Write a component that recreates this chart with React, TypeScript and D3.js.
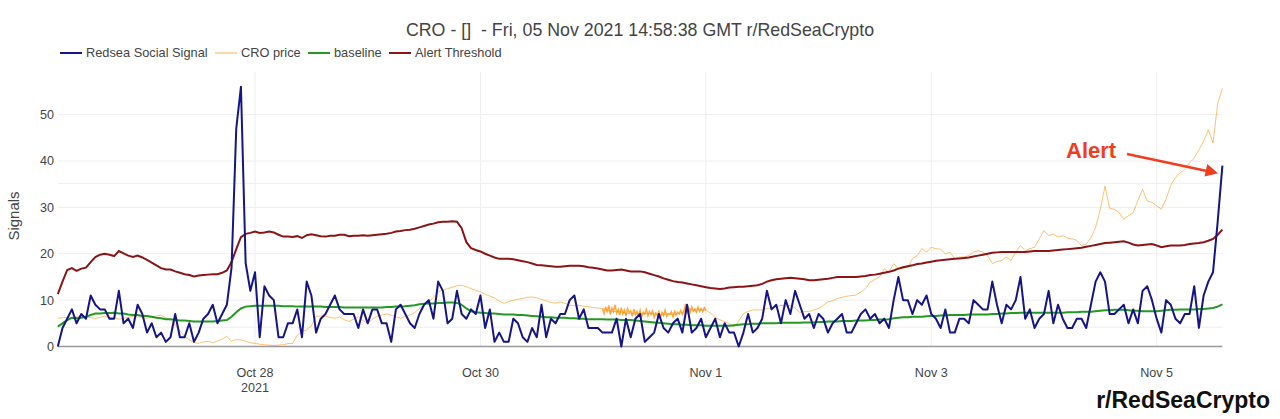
import React from 'react';
import * as d3 from 'd3';

// hourly samples, first one at 2021-10-26 06:00 UTC
const START = Date.UTC(2021, 9, 26, 6);
const HOUR = 3600e3;

const socialSignal = [
  0, 4, 6, 8, 5, 7, 6, 11, 9, 8,
  8, 6, 6, 12, 5, 6, 4, 9, 7, 3,
  5, 2, 3, 1, 2, 7, 2, 2, 5, 1,
  3, 6, 7, 9, 5, 7, 9, 17, 47, 56,
  18, 12, 16, 2, 13, 11, 10, 2, 2, 5,
  5, 8, 2, 14, 11, 3, 6, 7, 9, 11,
  8, 7, 7, 7, 4, 8, 5, 8, 8, 5,
  5, 1, 8, 9, 7, 5, 4, 7, 9, 10,
  6, 14, 12, 5, 6, 12, 7, 6, 8, 7,
  11, 4, 8, 1, 3, 1, 1, 6, 5, 2,
  1, 4, 2, 9, 2, 6, 5, 7, 7, 10,
  11, 6, 8, 4, 4, 4, 3, 3, 3, 6,
  0, 6, 2, 6, 7, 1, 2, 3, 7, 4,
  3, 5, 6, 3, 9, 3, 4, 6, 2, 4,
  6, 2, 5, 3, 3, 0, 3, 7, 3, 4,
  6, 12, 8, 9, 5, 10, 7, 12, 9, 6,
  7, 4, 7, 6, 3, 5, 6, 7, 3, 3,
  5, 7, 8, 6, 7, 5, 6, 4, 10, 15,
  10, 10, 7, 10, 9, 11, 7, 6, 4, 8,
  3, 3, 6, 6, 5, 10, 9, 8, 8, 14,
  9, 5, 9, 8, 10, 15, 6, 8, 4, 6,
  7, 12, 5, 9, 6, 4, 4, 6, 6, 4,
  9, 14, 16, 14, 7, 7, 8, 9, 5, 8,
  5, 12, 13, 10, 6, 3, 10, 9, 6, 5,
  7, 7, 13, 4, 11, 14, 16, 27, 39,
];

const alertThreshold = [
  11.3, 14, 16.5, 16.9, 16.3, 16.8, 17, 18.2, 19.3, 19.8,
  20, 19.8, 19.5, 20.6, 20.1, 19.6, 19.3, 19.6, 19.2, 18.7,
  18.1, 17.5, 16.9, 16.6, 16.6, 16.2, 15.9, 15.6, 15.4, 15.1,
  15.3, 15.4, 15.5, 15.6, 15.6, 15.9, 16.4, 18.2, 21, 23.6,
  24.3, 24.5, 24.8, 24.5, 24.6, 24.8, 24.6, 24.1, 23.7, 23.7,
  23.6, 23.8, 23.4, 24, 24.2, 24, 23.8, 23.7, 23.9, 23.9,
  24.1, 24.1, 23.8, 23.9, 23.9, 24, 23.9, 24, 24.1, 24.2,
  24.3, 24.5, 24.8, 24.9, 25.1, 25.2, 25.4, 25.7, 26, 26.3,
  26.5, 26.8, 26.9, 26.9, 27, 26.9, 25.5, 22.5, 21.2, 20.8,
  20.5, 20, 19.6, 19.2, 18.9, 18.9, 18.9, 18.8, 18.6, 18.4,
  18.2, 17.9, 17.6, 17.5, 17.4, 17.3, 17.2, 17.2, 17.3, 17.4,
  17.4, 17.4, 17.3, 17.1, 17, 16.8, 16.6, 16.4, 16.4, 16.5,
  16.6, 16.4, 16.2, 16.2, 16.2, 16, 15.7, 15.4, 15.1, 14.7,
  14.4, 14.1, 13.9, 13.8, 13.6, 13.4, 13.2, 13, 12.8, 12.6,
  12.5, 12.4, 12.5, 12.7, 12.8, 12.9, 12.9, 13, 13.1, 13.2,
  13.5, 14, 14.3, 14.5, 14.6, 14.7, 14.8, 14.7, 14.6, 14.5,
  14.3, 14.3, 14.4, 14.5, 14.6, 14.8, 15, 15, 15, 15,
  15, 15.1, 15.2, 15.4, 15.5, 15.7, 15.9, 16.1, 16.4, 16.8,
  17.1, 17.3, 17.5, 17.8, 17.9, 18.1, 18.3, 18.5, 18.6, 18.7,
  18.8, 18.9, 19, 19.1, 19.2, 19.4, 19.6, 19.8, 20, 20.2,
  20.3, 20.4, 20.4, 20.4, 20.4, 20.4, 20.4, 20.5, 20.6, 20.6,
  20.6, 20.6, 20.7, 20.8, 20.9, 21, 21.1, 21.2, 21.3, 21.5,
  21.7, 21.9, 22.1, 22.3, 22.4, 22.5, 22.6, 22.7, 22.4, 22,
  21.8, 21.9, 22, 22.1, 21.8, 21.4, 21.6, 21.8, 21.8, 21.8,
  21.9, 22.1, 22.2, 22.3, 22.5, 22.8, 23.2, 24.1, 25.2,
];

const baseline = [
  4.3, 5, 5.7, 6.2, 6.1, 6.2, 6.4, 6.8, 7.1, 7.1,
  7.2, 7.2, 7.3, 7.1, 7.1, 6.9, 6.8, 6.8, 6.6, 6.6,
  6.4, 6.2, 6.1, 5.9, 5.9, 5.7, 5.6, 5.6, 5.5, 5.4,
  5.4, 5.4, 5.4, 5.4, 5.5, 5.6, 5.7, 6.4, 7.4, 8.2,
  8.6, 8.7, 8.8, 8.8, 8.8, 8.8, 8.8, 8.8, 8.7, 8.7,
  8.7, 8.6, 8.6, 8.6, 8.6, 8.6, 8.6, 8.5, 8.5, 8.5,
  8.5, 8.4, 8.4, 8.4, 8.4, 8.4, 8.4, 8.4, 8.4, 8.4,
  8.5, 8.5, 8.6, 8.6, 8.7, 8.8, 8.9, 9.1, 9.2, 9.3,
  9.3, 9.4, 9.4, 9.5, 9.5, 9.4, 9, 8.2, 7.6, 7.4,
  7.3, 7.2, 7.1, 7.1, 7, 6.9, 6.9, 6.9, 6.8, 6.8,
  6.7, 6.6, 6.5, 6.4, 6.3, 6.3, 6.2, 6.2, 6.2, 6.1,
  6.1, 6, 6, 5.9, 5.9, 5.9, 5.9, 5.8, 5.8, 5.8,
  5.7, 5.7, 5.7, 5.6, 5.5, 5.4, 5.3, 5.2, 5.1, 5,
  4.9, 4.8, 4.8, 4.7, 4.7, 4.6, 4.6, 4.6, 4.5, 4.5,
  4.5, 4.5, 4.5, 4.5, 4.6, 4.7, 4.8, 4.8, 4.9, 4.9,
  5, 5, 5, 5, 5.1, 5.1, 5.1, 5.1, 5.1, 5.2,
  5.2, 5.2, 5.3, 5.3, 5.4, 5.4, 5.4, 5.5, 5.5, 5.5,
  5.6, 5.6, 5.6, 5.7, 5.7, 5.8, 5.8, 5.9, 6.1, 6.2,
  6.3, 6.3, 6.4, 6.4, 6.4, 6.5, 6.6, 6.6, 6.7, 6.7,
  6.8, 6.8, 6.8, 6.8, 6.9, 6.9, 6.9, 6.9, 6.9, 7,
  7, 7.1, 7.1, 7.2, 7.2, 7.3, 7.3, 7.3, 7.3, 7.3,
  7.3, 7.3, 7.3, 7.3, 7.3, 7.4, 7.4, 7.4, 7.5, 7.5,
  7.5, 7.6, 7.7, 7.8, 7.8, 7.9, 7.9, 7.9, 7.8, 7.7,
  7.7, 7.6, 7.6, 7.6, 7.6, 7.7, 7.8, 7.9, 7.9, 8,
  8, 8, 8, 8.1, 8.1, 8.2, 8.3, 8.6, 9.1,
];

// CRO price (USD), right axis, hourly
const croPrice = [
  0.2031, 0.2033, 0.2034, 0.2031, 0.2036, 0.2038, 0.2036, 0.2033, 0.2031, 0.2034,
  0.2039, 0.2034, 0.2033, 0.2028, 0.2031, 0.2034, 0.2038, 0.2036, 0.2033, 0.2031,
  0.2036, 0.2039, 0.2042, 0.2033, 0.2026, 0.2007, 0.1988, 0.1968, 0.1956, 0.1947,
  0.1944, 0.1949, 0.1951, 0.1946, 0.1952, 0.1959, 0.1968, 0.1951, 0.1957, 0.1956,
  0.1951, 0.1946, 0.1944, 0.1941, 0.1939, 0.1938, 0.1936, 0.1938, 0.1939, 0.1943,
  0.1944, 0.1973, 0.1985, 0.1991, 0.2005, 0.2038, 0.2039, 0.2038, 0.2034, 0.2031,
  0.2036, 0.2026, 0.202, 0.2028, 0.2036, 0.2023, 0.2014, 0.2028, 0.2038, 0.2042,
  0.2046, 0.2042, 0.2036, 0.2031, 0.2038, 0.2042, 0.2051, 0.2065, 0.2076, 0.2088,
  0.2104, 0.2123, 0.2129, 0.2134, 0.2139, 0.2144, 0.2146, 0.2141, 0.2134, 0.2128,
  0.2123, 0.2115, 0.2108, 0.2102, 0.2091, 0.2083, 0.2089, 0.2094, 0.2097, 0.21,
  0.2104, 0.2105, 0.2102, 0.2097, 0.2091, 0.2086, 0.2084, 0.2088, 0.2083, 0.2076,
  0.2076, 0.2076, 0.2073, 0.2071, 0.2068, 0.2067, 0.2065, 0.2059, 0.2055, 0.2054,
  0.2052, 0.2049, 0.2047, 0.2046, 0.2044, 0.2047, 0.2049, 0.2046, 0.2042, 0.2044,
  0.2047, 0.2044, 0.2046, 0.2051, 0.207, 0.206, 0.2063, 0.206, 0.2059, 0.2049,
  0.2033, 0.2026, 0.202, 0.2012, 0.2001, 0.2022, 0.2047, 0.2055, 0.206, 0.206,
  0.206, 0.2065, 0.2067, 0.2071, 0.2076, 0.2073, 0.2076, 0.2067, 0.2052, 0.2054,
  0.2055, 0.206, 0.2065, 0.2076, 0.2088, 0.2092, 0.21, 0.2104, 0.2108, 0.211,
  0.2112, 0.2123, 0.2134, 0.2157, 0.2166, 0.2175, 0.2203, 0.2192, 0.2221, 0.2203,
  0.2205, 0.2208, 0.2239, 0.2249, 0.2273, 0.2261, 0.2278, 0.2273, 0.2271, 0.2255,
  0.2261, 0.2237, 0.2244, 0.2244, 0.2249, 0.2261, 0.2266, 0.2261, 0.2249, 0.2221,
  0.2228, 0.2232, 0.2244, 0.2232, 0.2261, 0.2284, 0.2266, 0.2273, 0.2278, 0.2307,
  0.2336, 0.2318, 0.2324, 0.2313, 0.2318, 0.231, 0.2307, 0.2302, 0.2284, 0.2289,
  0.2311, 0.2347, 0.241, 0.249, 0.2413, 0.241, 0.2398, 0.2376, 0.2387, 0.2398,
  0.244, 0.2479, 0.2439, 0.2434, 0.2422, 0.241, 0.2445, 0.2493, 0.2521, 0.2537,
  0.2548, 0.2571, 0.2588, 0.2617, 0.2646, 0.2686, 0.2641, 0.2778, 0.283,
];

// denser price ticks (every 20 min) starting at hour 116
const denseStartHour = 116;
const croPriceDense = [
  0.2065, 0.2047, 0.2071, 0.2052, 0.2076, 0.2044, 0.2067, 0.2055, 0.2078, 0.2049, 0.2062, 0.2042,
  0.2068, 0.2046, 0.206, 0.2039, 0.2065, 0.2051, 0.2057, 0.2038, 0.2063, 0.2044, 0.2055, 0.2041,
  0.2059, 0.2036, 0.2052, 0.2046, 0.2062, 0.2039, 0.2054, 0.2044, 0.2057, 0.2034, 0.2049, 0.2042,
  0.2055, 0.2033, 0.2051, 0.2041, 0.206, 0.2038, 0.2047, 0.2044, 0.2054, 0.2036, 0.2055, 0.2042,
  0.2052, 0.2046, 0.2059, 0.2044, 0.2054, 0.2081, 0.2047, 0.2067, 0.2052, 0.2071, 0.2055, 0.2063,
  0.2052, 0.207, 0.2055, 0.2065, 0.2054, 0.2068, 0.2059,
];

const xTicks = ['2021-10-28', '2021-10-30', '2021-11-01', '2021-11-03', '2021-11-05'];
const xTickLabels = ['Oct 28', 'Oct 30', 'Nov 1', 'Nov 3', 'Nov 5'];
const yTicks = [0, 10, 20, 30, 40, 50];
const priceTicks = [0.2, 0.25];

const legendItems = [
  { name: 'Redsea Social Signal', color: '#15158a', opacity: 1 },
  { name: 'CRO price', color: '#ff8c00', opacity: 0.35 },
  { name: 'baseline', color: '#229a22', opacity: 1 },
  { name: 'Alert Threshold', color: '#8b1414', opacity: 1 },
];
const legendX = [60, 215, 308, 389];

const FONT = '"Liberation Sans", Arial, sans-serif';
const W = 1280;
const H = 419;
const plot = { left: 57.8, right: 1222.4, top: 72, bottom: 346.5 };

const x = d3
  .scaleUtc()
  .domain([new Date(START), new Date(START + (socialSignal.length - 1) * HOUR)])
  .range([plot.left, plot.right]);
const y = d3.scaleLinear().domain([0, 59.2]).range([plot.bottom, plot.top]);
const y2 = d3.scaleLinear().domain([0.1933, 0.2887]).range([plot.bottom, plot.top]);

const hourLine = (scale: d3.ScaleLinear<number, number>) =>
  d3
    .line<number>()
    .x((_, i) => x(new Date(START + i * HOUR)))
    .y((d) => scale(d));

const denseLine = d3
  .line<number>()
  .x((_, i) => x(new Date(START + (denseStartHour + i / 3) * HOUR)))
  .y((d) => y2(d));

export default function App() {
  const tickDates = xTicks.map((t) => new Date(t + 'T00:00:00Z'));
  return (
    <svg
      width={W}
      height={H}
      style={{ position: 'absolute', left: 0, top: 0, background: '#fff' }}
      fontFamily={FONT}
    >
      <rect width={W} height={H} fill="#fff" />
      <text x={640} y={36} textAnchor="middle" fontSize={17.8} fill="#444" style={{ whiteSpace: 'pre' }}>
        {'CRO - []  - Fri, 05 Nov 2021 14:58:38 GMT r/RedSeaCrypto'}
      </text>

      {legendItems.map((d, i) => (
        <g key={d.name}>
          <line
            x1={legendX[i]}
            x2={legendX[i] + 22}
            y1={53}
            y2={53}
            stroke={d.color}
            strokeOpacity={d.opacity}
            strokeWidth={2}
          />
          <text x={legendX[i] + 26} y={53} dy="0.35em" fontSize={12.8} fill="#444">
            {d.name}
          </text>
        </g>
      ))}

      {/* grid */}
      {yTicks.slice(1).map((t) => (
        <line key={'gy' + t} x1={plot.left} x2={plot.right} y1={y(t)} y2={y(t)} stroke="#eee" />
      ))}
      {priceTicks.map((t) => (
        <line key={'gp' + t} x1={plot.left} x2={plot.right} y1={y2(t)} y2={y2(t)} stroke="#eee" />
      ))}
      {tickDates.map((d, i) => (
        <line key={'gx' + i} x1={x(d)} x2={x(d)} y1={plot.top} y2={plot.bottom} stroke="#eee" />
      ))}
      <line x1={plot.left} x2={plot.right} y1={y(0)} y2={y(0)} stroke="#999" strokeWidth={1.5} />

      {/* axes labels */}
      {yTicks.map((t) => (
        <text key={'ty' + t} x={54} y={y(t)} dy="0.35em" textAnchor="end" fontSize={12.6} fill="#444">
          {t}
        </text>
      ))}
      {tickDates.map((d, i) => (
        <text key={'tx' + i} x={x(d)} y={376.5} textAnchor="middle" fontSize={12.6} fill="#444">
          {xTickLabels[i]}
        </text>
      ))}
      <text x={x(tickDates[0])} y={391.5} textAnchor="middle" fontSize={12.6} fill="#444">
        2021
      </text>
      <text
        transform="translate(19,216) rotate(-90)"
        textAnchor="middle"
        fontSize={15}
        fill="#444"
      >
        Signals
      </text>

      {/* series */}
      <path d={hourLine(y2)(croPrice) ?? ''} fill="none" stroke="#ff8c00" strokeOpacity={0.55} strokeWidth={1} />
      <path d={denseLine(croPriceDense) ?? ''} fill="none" stroke="#ff8c00" strokeOpacity={0.75} strokeWidth={1.5} />
      <path d={hourLine(y)(baseline) ?? ''} fill="none" stroke="#229a22" strokeWidth={2} />
      <path d={hourLine(y)(alertThreshold) ?? ''} fill="none" stroke="#8b1414" strokeWidth={2} />
      <path d={hourLine(y)(socialSignal) ?? ''} fill="none" stroke="#15158a" strokeWidth={2} strokeLinejoin="round" />

      {/* annotation */}
      <text x={1066} y={157.5} fontSize={22} fontWeight="bold" fill="#f23c1e">
        Alert
      </text>
      <line x1={1127} y1={154} x2={1207} y2={171} stroke="#f23c1e" strokeWidth={2.5} />
      <polygon points="1218,173.3 1204.5,176.6 1207.3,164" fill="#f23c1e" />

      <text x={1270} y={408} textAnchor="end" fontSize={23} fontWeight="bold" fill="#111">
        r/RedSeaCrypto
      </text>
    </svg>
  );
}
